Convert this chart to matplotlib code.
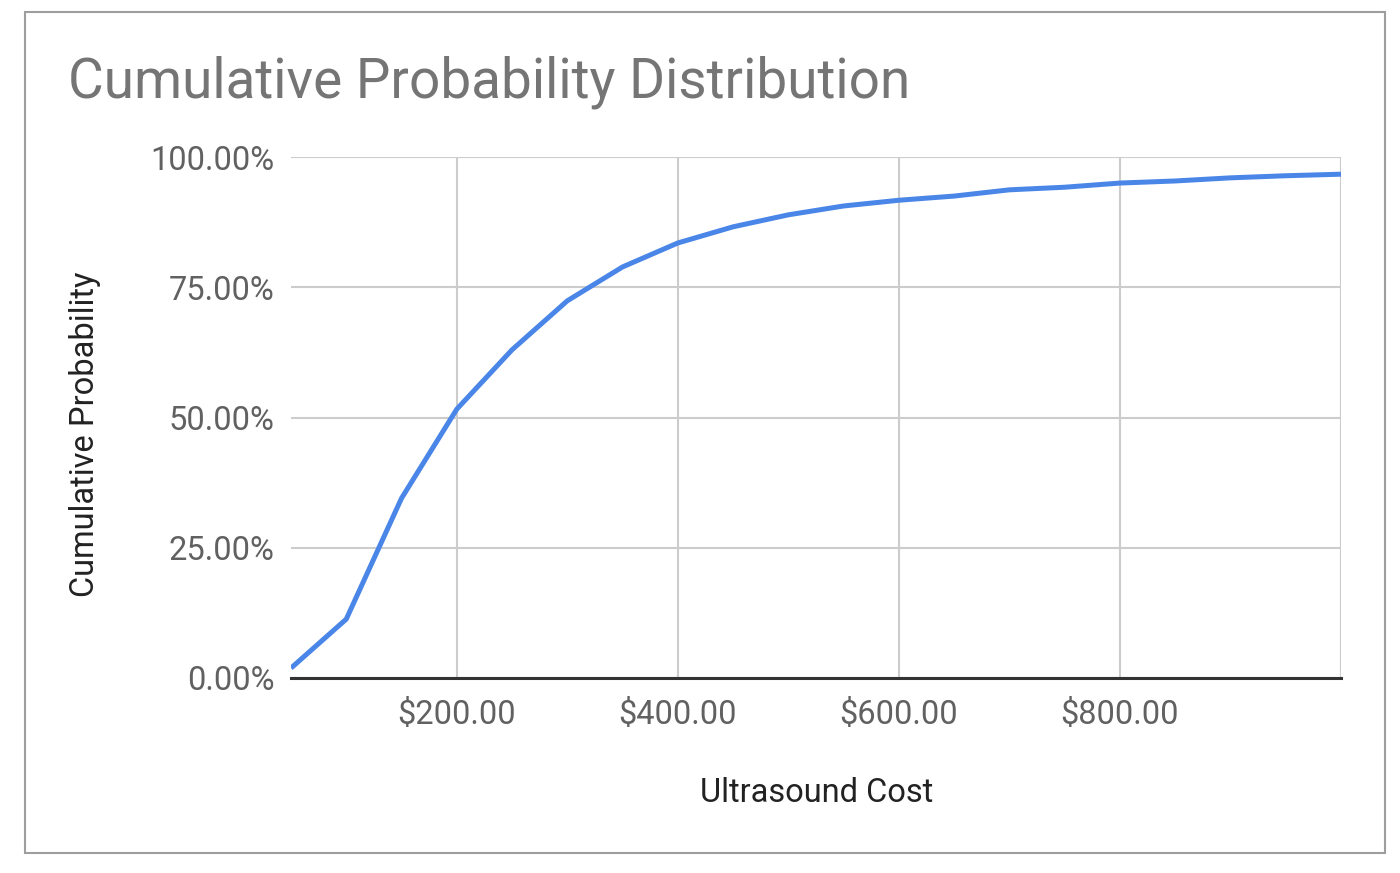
import matplotlib
matplotlib.use("Agg")
import matplotlib.pyplot as plt
from matplotlib.patches import Rectangle
from matplotlib.ticker import FuncFormatter

cost = [50, 100, 150, 200, 250, 300, 350, 400, 450, 500, 550, 600, 650, 700, 750, 800, 850, 900, 950, 1000]
cum_prob = [1.9, 11.3, 34.5, 51.6, 63.0, 72.4, 78.9, 83.5, 86.6, 88.9, 90.6, 91.7, 92.5, 93.7, 94.2, 95.0, 95.4, 96.0, 96.4, 96.7]
x_ticks = [200, 400, 600, 800]
y_ticks = [0, 25, 50, 75, 100]

plt.rcParams['font.family'] = ['Roboto', 'DejaVu Sans']

W, H = 1400, 873
fig = plt.figure(figsize=(W / 100, H / 100), dpi=100)
fig.patch.set_facecolor('white')

# outer frame
fig.add_artist(Rectangle((25 / W, 1 - 853 / H), (1385 - 25) / W, (853 - 12) / H,
                         transform=fig.transFigure, fill=False, edgecolor='#9e9e9e', lw=1.5))

ax = fig.add_axes([291 / W, 1 - 678 / H, (1341 - 291) / W, (678 - 157) / H])
ax.plot(cost, cum_prob, color='#4a86e8', lw=3.6, solid_capstyle='butt', zorder=3)

ax.set_xlim(50, 1000)
ax.set_ylim(0, 100)
ax.set_xticks(x_ticks + [1000])
ax.set_xticklabels([f"${v:,.2f}" for v in x_ticks] + [""])
ax.set_yticks(y_ticks)
ax.yaxis.set_major_formatter(FuncFormatter(lambda v, p: f"{v:.2f}%"))

ax.grid(True, color='#cccccc', lw=1.5, zorder=0)
ax.tick_params(length=0, labelsize=23.5, colors='#616161')
ax.tick_params(axis='y', pad=12)
ax.tick_params(axis='x', pad=15)
for s in ['left', 'top', 'right']:
    ax.spines[s].set_visible(False)
ax.spines['bottom'].set_color('#333333')
ax.spines['bottom'].set_linewidth(2.2)
ax.spines['bottom'].set_zorder(4)

fig.text(68 / W, 1 - 82 / H, "Cumulative Probability Distribution", fontsize=39.5,
         color='#757575', ha='left', va='center')
fig.text(817 / W, 1 - 793 / H, "Ultrasound Cost", fontsize=23.5, color='#222222',
         ha='center', va='center')
fig.text(85 / W, 1 - 434 / H, "Cumulative Probability", fontsize=23.5, color='#222222',
         ha='center', va='center', rotation=90)

fig.savefig("out.png", dpi=100, facecolor='white')
